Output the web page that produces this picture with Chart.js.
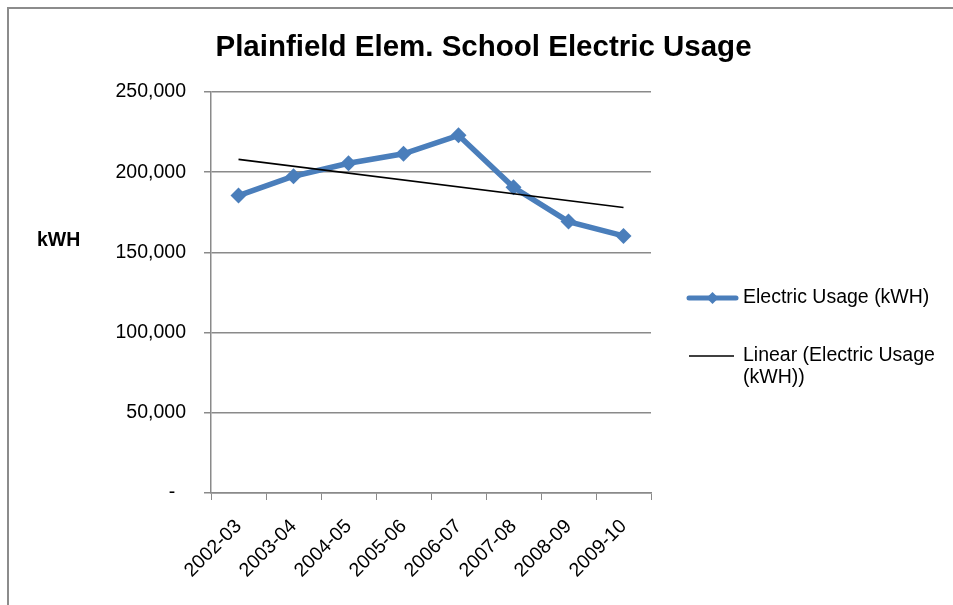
<!DOCTYPE html>
<html>
<head>
<meta charset="utf-8">
<script src="https://cdn.jsdelivr.net/npm/chart.js@4/dist/chart.umd.min.js"></script>
<style>
  html, body { margin: 0; padding: 0; background: #ffffff; }
  #wrap { width: 953px; height: 605px; position: relative; }
</style>
</head>
<body>
<div id="wrap"><canvas id="c" width="953" height="605"></canvas></div>
<script>
// ---- data ----
const categories = ['2002-03', '2003-04', '2004-05', '2005-06', '2006-07', '2007-08', '2008-09', '2009-10'];
const electricUsage = [185400, 197500, 205600, 211500, 223000, 190600, 169200, 160300];
// Trendline endpoints (first and last category)
const trendValues = [208000, null, null, null, null, null, null, 178000];
const yTicks = [0, 50000, 100000, 150000, 200000, 250000];

const titleText = 'Plainfield Elem. School Electric Usage';
const yAxisTitle = 'kWH';
const seriesLabel = 'Electric Usage (kWH)';
const trendLabelLines = ['Linear (Electric Usage', '(kWH))'];

const FONT = '"Liberation Sans", Arial, sans-serif';
const BLUE = '#4a7ebb';
const GRID = '#8a8a8a';

const decor = {
  id: 'decor',
  afterDraw(chart) {
    const ctx = chart.ctx;
    ctx.save();
    // outer frame (top + left visible)
    ctx.strokeStyle = '#8c8c8c';
    ctx.lineWidth = 2;
    ctx.beginPath();
    ctx.moveTo(8, 620);
    ctx.lineTo(8, 8);
    ctx.lineTo(970, 8);
    ctx.stroke();

    // title
    ctx.fillStyle = '#000';
    ctx.font = 'bold 29.5px ' + FONT;
    ctx.textAlign = 'center';
    ctx.textBaseline = 'alphabetic';
    ctx.fillText(titleText, 483.5, 56);

    // y axis title (horizontal)
    ctx.font = 'bold 19.5px ' + FONT;
    ctx.textAlign = 'left';
    ctx.textBaseline = 'middle';
    ctx.fillText(yAxisTitle, 37, 241);

    // legend
    ctx.font = '19.5px ' + FONT;
    // entry 1
    ctx.strokeStyle = BLUE;
    ctx.lineWidth = 5;
    ctx.lineCap = 'round';
    ctx.beginPath();
    ctx.moveTo(689, 298);
    ctx.lineTo(736, 298);
    ctx.stroke();
    ctx.fillStyle = BLUE;
    ctx.beginPath();
    ctx.moveTo(712.5, 292);
    ctx.lineTo(718.5, 298);
    ctx.lineTo(712.5, 304);
    ctx.lineTo(706.5, 298);
    ctx.closePath();
    ctx.fill();
    ctx.fillStyle = '#000';
    ctx.fillText(seriesLabel, 743, 298);
    // entry 2
    ctx.strokeStyle = '#000';
    ctx.lineWidth = 1.5;
    ctx.lineCap = 'butt';
    ctx.beginPath();
    ctx.moveTo(689, 356);
    ctx.lineTo(734, 356);
    ctx.stroke();
    ctx.fillText(trendLabelLines[0], 743, 356);
    ctx.fillText(trendLabelLines[1], 743, 378);
    ctx.restore();
  }
};

new Chart(document.getElementById('c'), {
  type: 'line',
  data: {
    labels: categories,
    datasets: [
      {
        label: seriesLabel,
        data: electricUsage,
        borderColor: BLUE,
        backgroundColor: BLUE,
        borderWidth: 5.5,
        pointStyle: 'rectRot',
        pointRadius: 8,
        pointBorderWidth: 0,
        pointBackgroundColor: BLUE,
        tension: 0,
        order: 2
      },
      {
        label: 'Linear (Electric Usage (kWH))',
        data: trendValues,
        borderColor: '#000000',
        borderWidth: 1.7,
        pointRadius: 0,
        spanGaps: true,
        tension: 0,
        order: 1
      }
    ]
  },
  options: {
    responsive: false,
    animation: false,
    events: [],
    layout: { padding: { left: 0, right: 302, top: 92, bottom: 0 } },
    plugins: {
      legend: { display: false },
      title: { display: false },
      tooltip: { enabled: false }
    },
    scales: {
      x: {
        type: 'category',
        offset: true,
        afterFit(scale) { scale.height = 112; },
        grid: {
          drawOnChartArea: false,
          drawTicks: true,
          tickLength: 7,
          color: GRID,
          offset: true
        },
        border: { display: true, color: GRID, width: 1.5 },
        ticks: {
          color: '#000',
          font: { family: FONT, size: 19.5 },
          minRotation: 45,
          maxRotation: 45,
          padding: 15,
          autoSkip: false
        }
      },
      y: {
        min: 0,
        max: 250000,
        afterFit(scale) { scale.width = 211; },
        afterBuildTicks(scale) { scale.ticks = yTicks.map(v => ({ value: v })); },
        grid: {
          drawTicks: true,
          tickLength: 7,
          color: GRID,
          lineWidth: 1.5
        },
        border: { display: true, color: GRID, width: 1.5 },
        ticks: {
          color: '#000',
          font: { family: FONT, size: 19.5 },
          padding: 18,
          callback(v) { return v === 0 ? '-  ' : v.toLocaleString('en-US'); }
        }
      }
    }
  },
  plugins: [decor]
});
</script>
</body>
</html>
